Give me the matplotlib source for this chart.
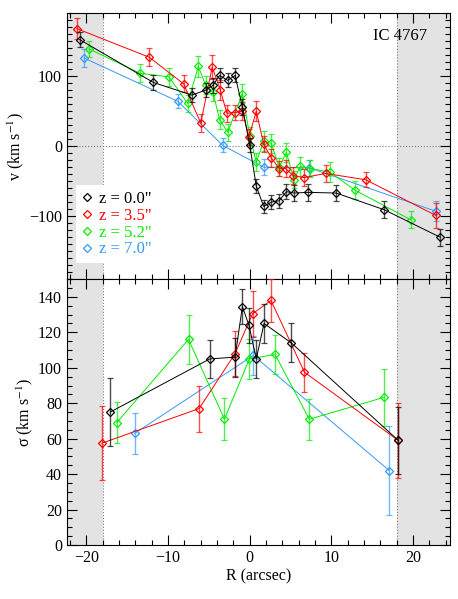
import numpy as np
import matplotlib
matplotlib.use('Agg')
import matplotlib.pyplot as plt
from matplotlib.lines import Line2D
from matplotlib.ticker import MultipleLocator

plt.rcParams['font.family'] = ['Liberation Serif', 'DejaVu Serif']
plt.rcParams['mathtext.fontset'] = 'stix'
plt.rcParams['font.size'] = 11.5

labels = ['z = 0.0"', 'z = 3.5"', 'z = 5.2"', 'z = 7.0"']
colors = ['black', 'red', '#00ee00', '#3399ff']

# velocity profiles
r_v0 = [-20.8, -11.8, -7.1, -5.4, -4.5, -3.7, -2.7, -1.8, -0.9, 0.0, 0.8, 1.7,
        2.65, 3.6, 4.5, 5.4, 7.1, 10.6, 16.5, 23.3]
v_v0 = [152, 91, 73, 80, 87, 101, 94, 101, 56, 1, -57, -86,
        -80, -78, -65, -67, -66, -67, -91, -130]
e_v0 = [11, 11, 10, 10, 11, 10, 10, 10, 11, 10, 10, 9,
        10, 10, 11, 11, 12, 11, 12, 12]

r_v1 = [-21.2, -12.3, -8.1, -6.0, -4.6, -3.6, -2.8, -1.8, -0.9, -0.1, 0.8, 1.7,
        2.65, 3.6, 4.4, 5.3, 6.6, 9.3, 14.2, 22.8]
v_v1 = [168, 127, 89, 33, 113, 80, 47, 48, 50, 13, 50, 3,
        -17, -32, -32, -42, -45, -39, -48, -99]
e_v1 = [15, 13, 12, 13, 17, 14, 12, 11, 13, 12, 14, 12,
        13, 11, 12, 12, 12, 12, 11, 18]

r_v2 = [-19.7, -13.4, -9.9, -7.6, -6.3, -5.4, -4.5, -3.7, -2.7, -0.9, 0.0, 0.8,
        1.7, 2.65, 3.6, 4.5, 5.4, 6.2, 7.4, 9.8, 12.9, 19.7]
v_v2 = [139, 104, 99, 61, 114, 87, 77, 38, 20, 75, 15, -23,
        7, 4, -30, -9, -48, -29, -32, -37, -63, -105]
e_v2 = [11, 13, 13, 12, 15, 13, 13, 13, 12, 14, 13, 13,
        14, 14, 13, 14, 12, 14, 12, 14, 13, 12]

r_v3 = [-20.3, -8.8, -3.3, 1.7, 7.3, 22.8]
v_v3 = [126, 64, 1, -30, -31, -93]
e_v3 = [13, 10, 10, 11, 11, 14]

# velocity dispersion profiles
r_s0 = [-17.1, -4.9, -1.8, -0.9, -0.1, 0.8, 1.75, 5.1, 18.2]
s_s0 = [75, 105, 106, 134.5, 124, 105, 125, 114, 59]
e_s0 = [19, 10.5, 11, 10, 10, 10.5, 11, 11, 19]

r_s1 = [-18.1, -6.2, -1.8, 0.35, 2.6, 6.7, 18.2]
s_s1 = [57.5, 77, 108, 130.5, 138, 97.5, 59]
e_s1 = [21, 13, 12.5, 13, 12, 11, 21]

r_s2 = [-16.3, -7.5, -3.1, -0.05, 3.1, 7.3, 16.5]
s_s2 = [69, 116, 71, 105, 107.5, 71, 83.4]
e_s2 = [11.5, 14, 12, 11.5, 11, 11.5, 16]

r_s3 = [-14.1, 0.45, 17.1]
s_s3 = [63, 107, 42]
e_s3 = [11.5, 11, 25]

vel = [(r_v0, v_v0, e_v0), (r_v1, v_v1, e_v1), (r_v2, v_v2, e_v2), (r_v3, v_v3, e_v3)]
sig = [(r_s0, s_s0, e_s0), (r_s1, s_s1, e_s1), (r_s2, s_s2, e_s2), (r_s3, s_s3, e_s3)]

fig = plt.figure(figsize=(4.58, 5.99), dpi=100)
gs = fig.add_gridspec(2, 1, left=0.146, right=0.982, top=0.978, bottom=0.090, hspace=0)
ax1 = fig.add_subplot(gs[0])
ax2 = fig.add_subplot(gs[1], sharex=ax1)

xlim = (-22.4, 24.5)
for ax in (ax1, ax2):
    ax.axvspan(xlim[0], -18, color='#e3e3e3', lw=0, zorder=0)
    ax.axvspan(18, xlim[1], color='#e3e3e3', lw=0, zorder=0)
    ax.axvline(-18, color='gray', ls=':', lw=0.8, zorder=1)
    ax.axvline(18, color='gray', ls=':', lw=0.8, zorder=1)

ax1.axhline(0, color='gray', ls=':', lw=0.8, zorder=1)

# draw blue first so black ends up on top
for i in [3, 2, 1, 0]:
    for ax, (r, y, e) in ((ax1, vel[i]), (ax2, sig[i])):
        _, caps, bars = ax.errorbar(r, y, yerr=e, color=colors[i], ecolor=colors[i],
                                    elinewidth=1.0, capsize=2.2, capthick=0.8,
                                    lw=0.7, marker='D', ms=4.5, mfc='none',
                                    mew=0.9, zorder=3 + (3 - i))
        for c in caps:
            c.set_alpha(0.7)
        for b in bars:
            b.set_alpha(0.7)

ax1.set_xlim(*xlim)
ax1.set_ylim(-190, 190)
ax2.set_ylim(0, 150)

ax1.set_ylabel('v (km s$^{-1}$)', labelpad=2)
ax2.set_ylabel('σ (km s$^{-1}$)', labelpad=2)
ax2.set_xlabel('R (arcsec)', labelpad=2)

ax1.xaxis.set_major_locator(MultipleLocator(10))
ax1.xaxis.set_minor_locator(MultipleLocator(2))
ax1.yaxis.set_major_locator(MultipleLocator(100))
ax1.yaxis.set_minor_locator(MultipleLocator(10))
ax2.yaxis.set_major_locator(MultipleLocator(20))
ax2.yaxis.set_minor_locator(MultipleLocator(5))

for ax in (ax1, ax2):
    ax.tick_params(which='both', direction='in', top=True, right=True)
    ax.tick_params(which='major', length=7, width=0.8)
    ax.tick_params(which='minor', length=3.5, width=0.8)
    for sp in ax.spines.values():
        sp.set_linewidth(0.8)
plt.setp(ax1.get_xticklabels(), visible=False)

ax1.text(0.80, 0.9, 'IC 4767', transform=ax1.transAxes, fontsize=12)

handles = [Line2D([], [], ls='none', marker='D', ms=4.5, mfc='none', mew=0.9, color=c)
           for c in colors]
ax1.legend(handles, labels, loc='lower left', bbox_to_anchor=(0.025, 0.06),
           borderaxespad=0, handlelength=0.6, handletextpad=0.4,
           labelspacing=0.05, frameon=True, fancybox=False,
           edgecolor='none', facecolor='white', framealpha=1,
           fontsize=12, borderpad=0.35, labelcolor='linecolor')

fig.savefig('out.png', dpi=100)
